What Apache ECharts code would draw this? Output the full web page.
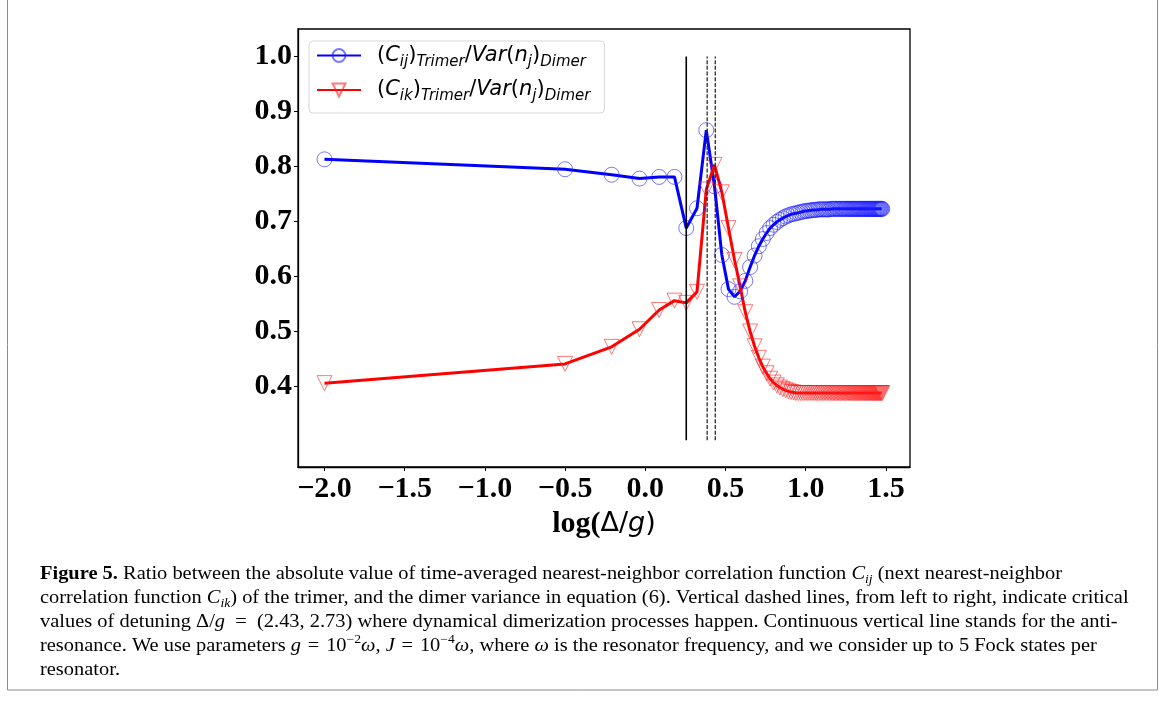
<!DOCTYPE html>
<html>
<head>
<meta charset="utf-8">
<script src="https://cdn.jsdelivr.net/npm/echarts@6.0.0/dist/echarts.min.js"></script>
<style>
html, body { margin: 0; padding: 0; background: #fff; }
#chart { width: 1165px; height: 702px; }
</style>
</head>
<body>
<div id="chart"></div>
<script>
// detuning Delta/g (plotted as log10)
var detuning = [
    0.01, 0.316, 0.617, 0.92, 1.22, 1.52, 1.8, 2.1, 2.4, 2.7,
    3.0, 3.3, 3.6, 3.9, 4.2, 4.5, 4.8, 5.1, 5.4, 5.7,
    6.0, 6.3, 6.6, 6.9, 7.2, 7.5, 7.8, 8.1, 8.4, 8.7,
    9.0, 9.3, 9.6, 9.9, 10.2, 10.5, 10.8, 11.1, 11.4, 11.7,
    12.0, 12.3, 12.6, 12.9, 13.2, 13.5, 13.8, 14.1, 14.4, 14.7,
    15.0, 15.3, 15.6, 15.9, 16.2, 16.5, 16.8, 17.1, 17.4, 17.7,
    18.0, 18.3, 18.6, 18.9, 19.2, 19.5, 19.8, 20.1, 20.4, 20.7,
    21.0, 21.3, 21.6, 21.9, 22.2, 22.5, 22.8, 23.1, 23.4, 23.7,
    24.0, 24.3, 24.6, 24.9, 25.2, 25.5, 25.8, 26.1, 26.4, 26.7,
    27.0, 27.3, 27.6, 27.9, 28.2, 28.5, 28.8, 29.1, 29.4, 29.7,
    30.0
];
// (C_ij)_Trimer / Var(n_j)_Dimer
var cijRatio = [
    0.813, 0.795, 0.785, 0.778, 0.781, 0.781, 0.688, 0.724, 0.866, 0.764,
    0.639, 0.577, 0.563, 0.573, 0.592, 0.617, 0.638, 0.655, 0.668, 0.679,
    0.688, 0.694, 0.699, 0.703, 0.706, 0.709, 0.711, 0.713, 0.714, 0.715,
    0.716, 0.717, 0.718, 0.719, 0.719, 0.720, 0.720, 0.721, 0.721, 0.721,
    0.722, 0.722, 0.722, 0.722, 0.722, 0.722, 0.722, 0.722, 0.723, 0.723,
    0.723, 0.723, 0.723, 0.723, 0.723, 0.723, 0.723, 0.723, 0.723, 0.723,
    0.723, 0.723, 0.723, 0.723, 0.723, 0.723, 0.723, 0.723, 0.723, 0.723,
    0.723, 0.723, 0.723, 0.723, 0.723, 0.723, 0.723, 0.723, 0.723, 0.723,
    0.723, 0.723, 0.723, 0.723, 0.723, 0.723, 0.723, 0.723, 0.723, 0.723,
    0.723, 0.723, 0.723, 0.723, 0.723, 0.723, 0.723, 0.723, 0.723, 0.723,
    0.723
];
// (C_ik)_Trimer / Var(n_j)_Dimer
var cikRatio = [
    0.406, 0.441, 0.472, 0.504, 0.539, 0.556, 0.552, 0.572, 0.758, 0.803,
    0.753, 0.688, 0.630, 0.582, 0.535, 0.500, 0.473, 0.452, 0.436, 0.424,
    0.414, 0.407, 0.402, 0.398, 0.395, 0.393, 0.391, 0.390, 0.389, 0.388,
    0.388, 0.388, 0.388, 0.388, 0.388, 0.388, 0.388, 0.388, 0.388, 0.388,
    0.388, 0.388, 0.388, 0.388, 0.388, 0.388, 0.388, 0.388, 0.388, 0.388,
    0.388, 0.388, 0.388, 0.388, 0.388, 0.388, 0.388, 0.388, 0.388, 0.388,
    0.388, 0.388, 0.388, 0.388, 0.388, 0.388, 0.388, 0.388, 0.388, 0.388,
    0.388, 0.388, 0.388, 0.388, 0.388, 0.388, 0.388, 0.388, 0.388, 0.388,
    0.388, 0.388, 0.388, 0.388, 0.388, 0.388, 0.388, 0.388, 0.388, 0.388,
    0.388, 0.388, 0.388, 0.388, 0.388, 0.388, 0.388, 0.388, 0.388, 0.388,
    0.388
];
var xTicks = [-2.0, -1.5, -1.0, -0.5, 0.0, 0.5, 1.0, 1.5];
var yTicks = [0.4, 0.5, 0.6, 0.7, 0.8, 0.9, 1.0];
var antiResonance = [1.8];
var criticalDetuning = [2.43, 2.73];
var vlineSpan = [0.302, 1.0];

var myChart = echarts.init(document.getElementById('chart'), null, {renderer: 'canvas'});

function pairs(ys) {
    return detuning.map(function (d, i) { return [Math.log10(d), ys[i]]; });
}
function vline(d) {
    var x = Math.log10(d);
    return [[x, vlineSpan[0]], [x, vlineSpan[1]]];
}
function tickText(v) {
    return v.toFixed(1).replace('-', '\u2212');
}

var legendRich = {
    gap: {width: 11},
    n: {fontFamily: 'DejaVu Sans', fontSize: 21, lineHeight: 28, color: '#000'},
    i: {fontFamily: 'DejaVu Sans', fontSize: 21, fontStyle: 'italic', lineHeight: 28, color: '#000'},
    s: {fontFamily: 'DejaVu Sans', fontSize: 15, fontStyle: 'italic', lineHeight: 15, verticalAlign: 'bottom', color: '#000'}
};
var legendText = {
    Cij: '{gap|}{n|(}{i|C}{s|ij}{n|)}{s|Trimer}{n|/}{i|Var}{n|(}{i|n}{s|j}{n|)}{s|Dimer}',
    Cik: '{gap|}{n|(}{i|C}{s|ik}{n|)}{s|Trimer}{n|/}{i|Var}{n|(}{i|n}{s|j}{n|)}{s|Dimer}'
};

var capFont = 'Liberation Serif';
var capRich = {
    b: {fontFamily: capFont, fontSize: 18, fontWeight: 'bold', lineHeight: 24, color: '#000'},
    i: {fontFamily: capFont, fontSize: 18, fontStyle: 'italic', lineHeight: 24, color: '#000'},
    sub: {fontFamily: capFont, fontSize: 12, fontStyle: 'italic', lineHeight: 12, verticalAlign: 'bottom', color: '#000'},
    sup: {fontFamily: capFont, fontSize: 12, lineHeight: 12, verticalAlign: 'top', color: '#000'},
    lk: {fontFamily: capFont, fontSize: 18, lineHeight: 24, color: '#2a7ab8'}
};
var captionLines = [
    '{b|Figure 5.} Ratio between the absolute value of time-averaged nearest-neighbor correlation function {i|C}{sub|ij} (next nearest-neighbor',
    'correlation function {i|C}{sub|ik}) of the trimer, and the dimer variance in equation ({lk|6}). Vertical dashed lines, from left to right, indicate critical',
    'values of detuning \u0394/{i|g}\u2002=\u2002(2.43, 2.73) where dynamical dimerization processes happen. Continuous vertical line stands for the anti-',
    'resonance. We use parameters {i|g}\u2004=\u200410{sup|\u22122}{i|\u03c9}, {i|J}\u2004=\u200410{sup|\u22124}{i|\u03c9}, where {i|\u03c9} is the resonator frequency, and we consider up to 5 Fock states per',
    'resonator.'
];
var captionY = [574, 598, 622, 646, 670];

var graphics = [{
    type: 'rect', silent: true,
    shape: {x: 7.5, y: -5, width: 1150, height: 695},
    style: {fill: 'none', stroke: '#8c8c8c', lineWidth: 1}
}];
captionLines.forEach(function (t, k) {
    graphics.push({
        type: 'text', silent: true, x: 40, y: captionY[k], scaleX: 1.135,
        style: {
            text: t, rich: capRich, fill: '#000',
            fontFamily: capFont, fontSize: 18, lineHeight: 24,
            align: 'left', verticalAlign: 'middle'
        }
    });
});

var tickFont = {
    fontFamily: 'Liberation Serif', fontWeight: 'bold', fontSize: 30, color: '#000'
};

option = {
    backgroundColor: '#fff',
    animation: false,
    grid: {
        left: 298, top: 29, right: 255, bottom: 235,
        show: true, borderColor: '#000', borderWidth: 1.3,
        outerBoundsMode: 'none'
    },
    legend: {
        data: ['Cij', 'Cik'],
        orient: 'vertical',
        left: 309, top: 41,
        itemWidth: 44, itemHeight: 16, itemGap: 10,
        padding: [4, 14, 9, 7],
        backgroundColor: '#fff',
        borderColor: '#d6d6d6', borderWidth: 1, borderRadius: 4,
        textStyle: {rich: legendRich, fontFamily: 'DejaVu Sans', fontSize: 21, color: '#000'},
        formatter: function (name) { return legendText[name]; }
    },
    xAxis: {
        type: 'value', min: -2.165, max: 1.65,
        splitLine: {show: false},
        axisLine: {onZero: false, lineStyle: {color: '#000', width: 1.3}},
        axisTick: {show: true, length: 4, lineStyle: {color: '#000'}, customValues: xTicks},
        axisLabel: Object.assign({margin: 7, customValues: xTicks, formatter: tickText}, tickFont),
        name: '{b|log(}{m|\u0394/}{mi|g}{m|)}',
        nameLocation: 'middle', nameGap: 31,
        nameTextStyle: {
            rich: {
                b: {fontFamily: 'Liberation Serif', fontWeight: 'bold', fontSize: 30, color: '#000'},
                m: {fontFamily: 'DejaVu Sans', fontSize: 27, color: '#000'},
                mi: {fontFamily: 'DejaVu Sans', fontStyle: 'italic', fontSize: 27, color: '#000'}
            }
        }
    },
    yAxis: {
        type: 'value', min: 0.2535, max: 1.05,
        splitLine: {show: false},
        axisLine: {show: true, onZero: false, lineStyle: {color: '#000', width: 1.3}},
        axisTick: {show: true, length: 4, lineStyle: {color: '#000'}, customValues: yTicks},
        axisLabel: Object.assign({margin: 6, customValues: yTicks, formatter: tickText}, tickFont)
    },
    series: [
        {
            name: 'Cij', type: 'line', data: pairs(cijRatio),
            symbol: 'circle', symbolSize: 15, silent: true, z: 2,
            lineStyle: {color: '#0000ff', width: 3},
            itemStyle: {color: 'rgba(0,0,255,0)', borderColor: 'rgba(30,30,255,0.6)', borderWidth: 1}
        },
        {
            name: 'Cik', type: 'line', data: pairs(cikRatio),
            symbol: 'path://M0,0 L2,0 L1,2 Z', symbolSize: 15, silent: true, z: 2,
            lineStyle: {color: '#ff0000', width: 3},
            itemStyle: {color: 'rgba(255,0,0,0)', borderColor: 'rgba(255,30,30,0.6)', borderWidth: 1}
        },
        {
            name: 'anti', type: 'line', data: vline(antiResonance[0]),
            showSymbol: false, silent: true, z: 4,
            lineStyle: {color: '#000', width: 1.6}
        },
        {
            name: 'crit1', type: 'line', data: vline(criticalDetuning[0]),
            showSymbol: false, silent: true, z: 4,
            lineStyle: {color: '#2a2a2a', width: 1.3, type: [4, 1.7]}
        },
        {
            name: 'crit2', type: 'line', data: vline(criticalDetuning[1]),
            showSymbol: false, silent: true, z: 4,
            lineStyle: {color: '#2a2a2a', width: 1.3, type: [4, 1.7]}
        }
    ],
    graphic: graphics
};
myChart.setOption(option);
</script>
</body>
</html>
